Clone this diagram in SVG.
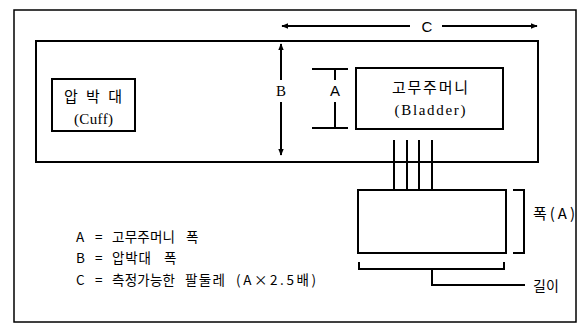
<svg xmlns="http://www.w3.org/2000/svg" width="579" height="332" viewBox="0 0 579 332">
<style>
.ln{fill:none;stroke:#000;stroke-width:2}
.thin{fill:none;stroke:#000;stroke-width:1.5}
.kr{font-family:"Noto Sans CJK KR","Liberation Sans",sans-serif;fill:#000}
.sr{font-family:"Liberation Serif","Noto Sans CJK KR",serif;fill:#000}
.sa{font-family:"Liberation Sans","Noto Sans CJK KR",sans-serif;fill:#000}
.lg{font-size:13.5px}
</style>
<defs>
<marker id="ah" viewBox="0 0 10 10" refX="9" refY="5" markerWidth="7" markerHeight="7" orient="auto-start-reverse" markerUnits="userSpaceOnUse">
<path d="M0,1 L10,5 L0,9 z" fill="#000"/>
</marker>
</defs>
<rect width="579" height="332" fill="#fff"/>
<g id="frame"><rect x="14" y="10" width="562" height="312" class="thin"/></g>
<g id="cuff-band"><rect x="36" y="41" width="502" height="121" class="ln"/></g>
<g id="cuff-label">
<rect x="52" y="79" width="83" height="52" class="ln"/>
<text x="64" y="102" class="kr" font-size="15" textLength="58" lengthAdjust="spacing">압 박 대</text>
<text x="74" y="124" class="sr" font-size="15" textLength="39" lengthAdjust="spacing">(Cuff)</text>
</g>
<g id="bladder">
<rect x="356" y="68" width="147" height="61" class="ln"/>
<text x="430" y="93" text-anchor="middle" class="kr" font-size="15" textLength="76" lengthAdjust="spacing">고무주머니</text>
<text x="430" y="115" text-anchor="middle" class="sr" font-size="15" textLength="71" lengthAdjust="spacing">(Bladder)</text>
</g>
<g id="bladder-flat">
<rect x="358" y="190" width="148" height="63" class="ln"/>
</g>
<g id="connectors">
<line x1="410" y1="26" x2="282" y2="26" class="ln" marker-end="url(#ah)"/>
<line x1="442" y1="26" x2="537" y2="26" class="ln" marker-end="url(#ah)"/>
<text x="427" y="31.5" text-anchor="middle" class="sa" font-size="15">C</text>
<line x1="281" y1="80" x2="281" y2="44" class="ln" marker-end="url(#ah)"/>
<line x1="281" y1="102" x2="281" y2="155" class="ln" marker-end="url(#ah)"/>
<text x="281" y="96" text-anchor="middle" class="sr" font-size="15">B</text>
<path d="M312,69 H348 M335,69 V80 M335,102 V128 M312,128 H348" class="ln"/>
<text x="335" y="96" text-anchor="middle" class="sa" font-size="15">A</text>
<path d="M394,140 V190 M407,140 V190 M419,140 V190 M432,140 V190" class="ln"/>
<path d="M513,190 H524 V253 H513" class="ln"/>
<text x="533" y="219" class="kr" font-size="15" textLength="42" lengthAdjust="spacing">폭(A)</text>
<path d="M359,262 V269 H504 V262 M432,269 V285 H525" class="ln"/>
<text x="533" y="291" class="kr" font-size="14">길이</text>
</g>
<g id="legend">
<text y="242" class="kr lg"><tspan x="76">A</tspan><tspan x="95">=</tspan><tspan x="112" textLength="63" lengthAdjust="spacing">고무주머니</tspan><tspan x="186">폭</tspan></text>
<text y="263" class="kr lg"><tspan x="76">B</tspan><tspan x="95">=</tspan><tspan x="112" textLength="39" lengthAdjust="spacing">압박대</tspan><tspan x="164">폭</tspan></text>
<text y="285" class="kr lg"><tspan x="76">C</tspan><tspan x="95">=</tspan><tspan x="112" textLength="63" lengthAdjust="spacing">측정가능한</tspan><tspan x="185" textLength="40" lengthAdjust="spacing">팔둘레</tspan><tspan x="236" textLength="80" lengthAdjust="spacing">(A×2.5배)</tspan></text>
</g>
</svg>
